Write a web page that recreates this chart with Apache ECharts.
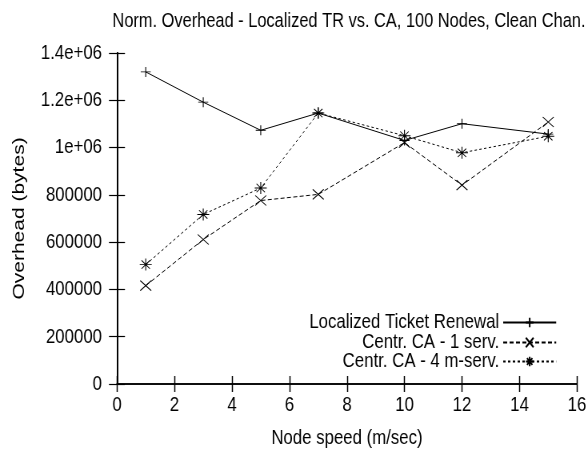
<!DOCTYPE html>
<html><head><meta charset="utf-8">
<script src="https://cdn.jsdelivr.net/npm/echarts@6/dist/echarts.min.js"></script>
<style>
html,body{margin:0;padding:0;background:#fff;overflow:hidden}
#wrap{width:588px;height:458px;overflow:hidden;position:relative}
#c{width:735px;height:458px;transform:scaleX(0.8);transform-origin:0 0;position:absolute;left:0;top:0}
</style>
</head><body><div id="wrap"><div id="c"></div></div>
<script>
var speeds = [1, 3, 5, 7, 10, 12, 15];
var localizedTR = [1320000, 1192000, 1073000, 1146000, 1030000, 1101000, 1057000];
var centrCA1 = [416000, 611000, 776000, 802000, 1021000, 841000, 1108000];
var centrCA4 = [505000, 717000, 829000, 1146000, 1050000, 978000, 1048000];
var seriesNames = ['Localized Ticket Renewal', 'Centr. CA - 1 serv.', 'Centr. CA - 4 m-serv.'];
var yTickLabels = {0:'0',200000:'200000',400000:'400000',600000:'600000',800000:'800000',1000000:'1e+06',1200000:'1.2e+06',1400000:'1.4e+06'};
var titleText = 'Norm. Overhead - Localized TR vs. CA, 100 Nodes, Clean Chan.';

// page is drawn 1.25x wider and compressed horizontally (helvetica-narrow look)
var SX = 0.8;
var FONT = "'Liberation Sans', Arial, Helvetica, sans-serif";
var symPlus = 'path://M5,0L5,10M0,5L10,5';
var symX = 'path://M0,0L10,10M0,10L10,0';
var symStar = 'path://M5,0L5,10M0,5L10,5M1.5,1.5L8.5,8.5M1.5,8.5L8.5,1.5';

function pairs(ys){ return speeds.map(function(x,i){return [x, ys[i]];}); }

var hLine = {lineStyle:{color:'#000', width:1.5}};
var vLine = {lineStyle:{color:'#000', width:1.5/SX}};
var xTick = {inside:true, length:8, lineStyle:{color:'#000', width:1.2/SX}};
var yTick = {inside:true, length:8/SX, lineStyle:{color:'#000', width:1.2}};

function mk(name, data, sym, w, h, dash){
  return {
    name:name, type:'line', data:pairs(data), symbol:sym, symbolSize:[w/SX, h],
    symbolKeepAspect:false,
    itemStyle:{color:'#000', borderColor:'#000', borderWidth:1},
    lineStyle:{color:'#000', width:1, type:dash},
    emphasis:{disabled:true}, animation:false
  };
}

function leg(name, top){
  return {
    data:[name], right:31/SX, top:top, align:'right', itemWidth:53/SX, itemHeight:12,
    textStyle:{fontFamily:FONT, fontSize:21, color:'#000'}, padding:0,
    selectedMode:false
  };
}

var chart = echarts.init(document.getElementById('c'), null, {renderer:'canvas'});
chart.setOption({
  animation:false,
  title:{text:titleText, left:345/SX, textAlign:'center', top:6,
    textStyle:{fontFamily:FONT, fontSize:20.5, fontWeight:'normal', color:'#000'}},
  grid:{left:117/SX, right:11/SX, top:53, bottom:74, containLabel:false, outerBoundsMode:'none'},
  legend:[leg(seriesNames[0], 312), leg(seriesNames[1], 332), leg(seriesNames[2], 351)],
  xAxis:[{
    type:'value', min:0, max:16, interval:2,
    name:'Node speed (m/sec)', nameLocation:'middle', nameGap:44,
    nameTextStyle:{fontFamily:FONT, fontSize:21, color:'#000'},
    axisLine:hLine, axisTick:xTick, splitLine:{show:false},
    axisLabel:{fontFamily:FONT, fontSize:21, color:'#000', margin:11}
  },{
    type:'value', min:0, max:16, interval:2, position:'top',
    axisLine:hLine, axisTick:xTick, splitLine:{show:false}, axisLabel:{show:false}
  }],
  yAxis:[{
    type:'value', min:0, max:1400000, interval:200000,
    name:'Overhead (bytes)', nameLocation:'middle', nameGap:112, nameRotate:90,
    nameTextStyle:{fontFamily:FONT, fontSize:21, color:'#000'},
    axisLine:vLine, axisTick:yTick, splitLine:{show:false},
    axisLabel:{fontFamily:FONT, fontSize:21, color:'#000', margin:15/SX,
      formatter:function(v){return yTickLabels[v]!==undefined?yTickLabels[v]:String(v);}}
  },{
    type:'value', min:0, max:1400000, interval:200000, position:'right',
    axisLine:vLine, axisTick:yTick, splitLine:{show:false}, axisLabel:{show:false}
  }],
  series:[
    mk(seriesNames[0], localizedTR, symPlus, 10, 10, 'solid'),
    mk(seriesNames[1], centrCA1, symX, 11, 10, [5,3]),
    mk(seriesNames[2], centrCA4, symStar, 12, 12, [3,3])
  ]
});
</script></body></html>
